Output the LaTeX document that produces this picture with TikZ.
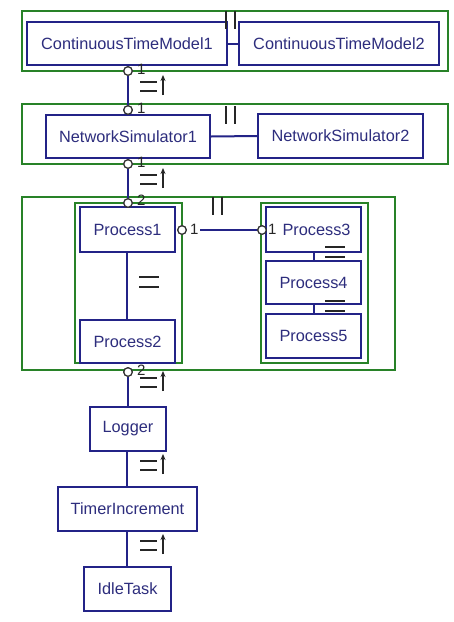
\documentclass[tikz,border=0pt]{standalone}
\usepackage{fontspec}
\setmainfont{Liberation Sans}
\usetikzlibrary{arrows.meta}
\definecolor{boxblue}{RGB}{35,35,135}
\definecolor{txtblue}{RGB}{45,45,125}
\definecolor{grp}{RGB}{40,130,40}
\begin{document}
\begin{tikzpicture}[x=1pt,y=-1pt,
  box/.style={draw=boxblue, line width=2pt, fill=white, inner sep=0pt, text=txtblue, font=\fontsize{16.3}{19}\selectfont},
  grpbox/.style={draw=grp, line width=2pt, inner sep=0pt},
  conn/.style={draw=boxblue, line width=2pt},
  port/.style={circle, draw=black!80, fill=white, line width=1.2pt, inner sep=0pt, minimum size=8.5pt},
  lbl/.style={font=\fontsize{15}{17}\selectfont, text=black!85, inner sep=0pt, anchor=west},
  bar/.style={line width=2.6pt, draw=black!85},
  ordarrow/.style={line width=2pt, draw=black!85, -{Stealth[length=6pt,width=5pt]}},
  ordmark/.pic={
    \draw[bar] (0,0) -- (17,0);
    \draw[bar] (0,9) -- (17,9);
    \draw[ordarrow] (23,13) -- (23,-7);
  },
  eqmark/.pic={
    \draw[bar] (0,0) -- (20,0);
    \draw[bar] (0,10) -- (20,10);
  },
  parmark/.pic={
    \draw[bar] (0,0) -- (0,18);
    \draw[bar] (9,0) -- (9,18);
  }
]
\useasboundingbox[fill=white] (0,0) rectangle (454,622);

% groups
\node[grpbox, minimum width=426pt, minimum height=60pt] (grpA) at (235,41) {};
\node[grpbox, minimum width=426pt, minimum height=60pt] (grpB) at (235,134) {};
\node[grpbox, minimum width=373pt, minimum height=173pt] (grpC) at (208.5,283.5) {};
\node[grpbox, minimum width=107pt, minimum height=160pt] (grpL) at (128.5,283) {};
\node[grpbox, minimum width=107pt, minimum height=160pt] (grpR) at (314.5,283) {};

% boxes
\node[box, minimum width=200pt, minimum height=43pt] (ctm1) at (127,43.5) {ContinuousTimeModel1};
\node[box, minimum width=200pt, minimum height=43pt] (ctm2) at (339,43.5) {ContinuousTimeModel2};
\node[box, minimum width=164pt, minimum height=43pt] (ns1) at (128,136.5) {NetworkSimulator1};
\node[box, minimum width=165pt, minimum height=44pt] (ns2) at (340.5,136) {NetworkSimulator2};
\node[box, minimum width=95pt, minimum height=45pt] (p1) at (127.5,229.5) {Process1};
\node[box, minimum width=95pt, minimum height=43pt] (p2) at (127.5,341.5) {Process2};
\node[box, minimum width=95pt, minimum height=45pt] (p3) at (313.5,229.5) {\hspace{6pt}Process3};
\node[box, minimum width=95pt, minimum height=43pt] (p4) at (313.5,282.5) {Process4};
\node[box, minimum width=95pt, minimum height=44pt] (p5) at (313.5,336) {Process5};
\node[box, minimum width=76pt, minimum height=44pt] (logger) at (128,429) {Logger};
\node[box, minimum width=139pt, minimum height=44pt] (timer) at (127.5,509) {TimerIncrement};
\node[box, minimum width=87pt, minimum height=44pt] (idle) at (127.5,589) {IdleTask};

% ports
\node[port] (pa) at (128,71) {};
\node[port] (pb1) at (128,110) {};
\node[port] (pb2) at (128,164) {};
\node[port] (pc1) at (128,203) {};
\node[port] (pc2) at (128,372) {};
\node[port] (pp1) at (182,230) {};
\node[port] (pp3) at (262,230) {};
\coordinate (lstart) at (200,230);

% connectors
\draw[conn] (ctm1.east) -- (ctm2.west);
\draw[conn] (ns1.east) -- (ns2.west);
\draw[conn] (pa.south) -- (pb1.north);
\draw[conn] (pb2.south) -- (pc1.north);
\draw[conn] (p1.south -| 127,0) -- (p2.north -| 127,0);
\draw[conn] (lstart) -- (pp3.west);
\draw[conn] (p3.south) -- (p4.north);
\draw[conn] (p4.south) -- (p5.north);
\draw[conn] (pc2.south) -- (logger.north);
\draw[conn] (logger.south -| 127,0) -- (timer.north -| 127,0);
\draw[conn] (timer.south -| 127,0) -- (idle.north -| 127,0);

% redraw ports on top
\node[port] at (pa) {};
\node[port] at (pb1) {};
\node[port] at (pb2) {};
\node[port] at (pc1) {};
\node[port] at (pc2) {};
\node[port] at (pp1) {};
\node[port] at (pp3) {};

% port labels
\node[lbl] (la) at (137,69) {1};
\node[lbl] (lb1) at (137,108) {1};
\node[lbl] (lb2) at (137,162) {1};
\node[lbl] (lc1) at (137,200) {2};
\node[lbl] (lc2) at (137,370) {2};
\node[lbl] (lp1) at (190,229) {1};
\node[lbl] (lp3) at (268,229) {1};

% constraint marks
\pic at (140,82) {ordmark};
\pic at (140,175) {ordmark};
\pic at (140,378) {ordmark};
\pic at (140,461) {ordmark};
\pic at (140,541) {ordmark};
\pic at (139,277) {eqmark};
\pic at (325,247) {eqmark};
\pic at (325,301) {eqmark};
\pic at (226,11) {parmark};
\pic at (226,106) {parmark};
\pic at (213,197) {parmark};
\end{tikzpicture}
\end{document}
